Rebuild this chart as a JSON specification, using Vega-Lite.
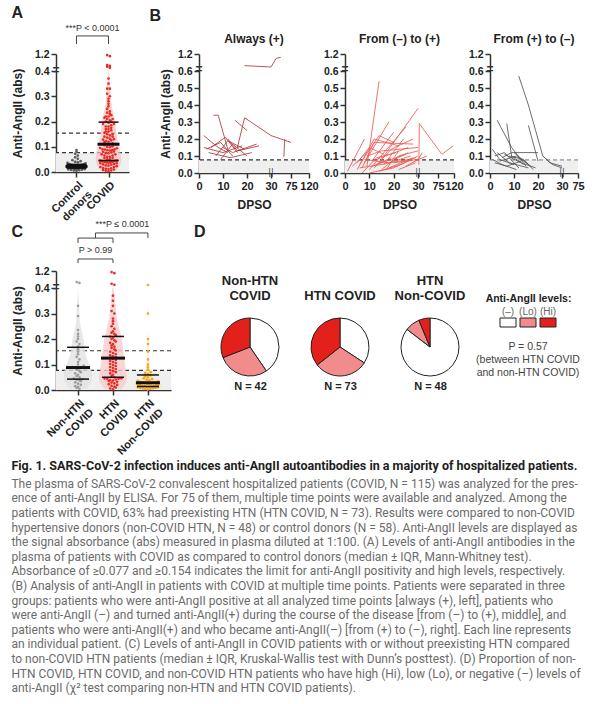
{
"$schema": "https://vega.github.io/schema/vega-lite/v6.json",
"padding": {"left": 11, "top": 4, "right": 4, "bottom": 4},
"config": {
  "view": {"stroke": null},
  "font": "Liberation Sans",
  "axis": {"labelFont": "Liberation Sans", "labelFontWeight": "bold", "labelFontSize": 10.5, "labelColor": "#222", "titleFont": "Liberation Sans", "titleFontWeight": "bold", "titleFontSize": 12, "titleColor": "#222", "domainColor": "#333", "domainWidth": 1.5, "tickColor": "#333", "tickWidth": 1.5, "tickSize": 5, "grid": false, "labelPadding": 2, "labelOverlap": false, "labelFlush": false},
  "title": {"font": "Liberation Sans", "fontWeight": "bold", "color": "#222"}
},
"datasets": {
  "dots": [
    {"g":"C","v":0.004},{"g":"C","v":0.006},{"g":"C","v":0.007},{"g":"C","v":0.008},{"g":"C","v":0.009},{"g":"C","v":0.010},{"g":"C","v":0.011},{"g":"C","v":0.012},{"g":"C","v":0.012},{"g":"C","v":0.013},{"g":"C","v":0.013},{"g":"C","v":0.014},{"g":"C","v":0.014},{"g":"C","v":0.015},{"g":"C","v":0.015},{"g":"C","v":0.016},{"g":"C","v":0.016},{"g":"C","v":0.017},{"g":"C","v":0.017},{"g":"C","v":0.018},{"g":"C","v":0.018},{"g":"C","v":0.019},{"g":"C","v":0.019},{"g":"C","v":0.020},{"g":"C","v":0.020},{"g":"C","v":0.020},{"g":"C","v":0.021},{"g":"C","v":0.021},{"g":"C","v":0.022},{"g":"C","v":0.022},{"g":"C","v":0.023},{"g":"C","v":0.023},{"g":"C","v":0.024},{"g":"C","v":0.024},{"g":"C","v":0.025},{"g":"C","v":0.025},{"g":"C","v":0.026},{"g":"C","v":0.026},{"g":"C","v":0.027},{"g":"C","v":0.027},{"g":"C","v":0.028},{"g":"C","v":0.028},{"g":"C","v":0.029},{"g":"C","v":0.030},{"g":"C","v":0.031},{"g":"C","v":0.032},{"g":"C","v":0.034},{"g":"C","v":0.036},{"g":"C","v":0.038},{"g":"C","v":0.040},{"g":"C","v":0.043},{"g":"C","v":0.047},{"g":"C","v":0.052},{"g":"C","v":0.058},{"g":"C","v":0.065},{"g":"C","v":0.072},{"g":"C","v":0.080},{"g":"C","v":0.087},
    {"g":"N","v":0.005},{"g":"N","v":0.008},{"g":"N","v":0.012},{"g":"N","v":0.015},{"g":"N","v":0.020},{"g":"N","v":0.025},{"g":"N","v":0.030},{"g":"N","v":0.035},{"g":"N","v":0.038},{"g":"N","v":0.040},{"g":"N","v":0.042},{"g":"N","v":0.045},{"g":"N","v":0.050},{"g":"N","v":0.055},{"g":"N","v":0.060},{"g":"N","v":0.065},{"g":"N","v":0.070},{"g":"N","v":0.075},{"g":"N","v":0.080},{"g":"N","v":0.085},{"g":"N","v":0.087},{"g":"N","v":0.089},{"g":"N","v":0.090},{"g":"N","v":0.095},{"g":"N","v":0.100},{"g":"N","v":0.110},{"g":"N","v":0.120},{"g":"N","v":0.130},{"g":"N","v":0.140},{"g":"N","v":0.150},{"g":"N","v":0.160},{"g":"N","v":0.170},{"g":"N","v":0.180},{"g":"N","v":0.190},{"g":"N","v":0.200},{"g":"N","v":0.210},{"g":"N","v":0.220},{"g":"N","v":0.235},{"g":"N","v":0.290},{"g":"N","v":0.330},{"g":"N","v":0.640},{"g":"N","v":0.680},
    {"g":"H","v":0.003},{"g":"H","v":0.006},{"g":"H","v":0.010},{"g":"H","v":0.013},{"g":"H","v":0.016},{"g":"H","v":0.020},{"g":"H","v":0.023},{"g":"H","v":0.026},{"g":"H","v":0.029},{"g":"H","v":0.032},{"g":"H","v":0.035},{"g":"H","v":0.037},{"g":"H","v":0.039},{"g":"H","v":0.041},{"g":"H","v":0.043},{"g":"H","v":0.044},{"g":"H","v":0.045},{"g":"H","v":0.046},
    {"g":"H","v":0.050},{"g":"H","v":0.055},{"g":"H","v":0.060},{"g":"H","v":0.065},{"g":"H","v":0.070},{"g":"H","v":0.074},{"g":"H","v":0.078},{"g":"H","v":0.082},{"g":"H","v":0.086},{"g":"H","v":0.090},{"g":"H","v":0.094},{"g":"H","v":0.098},{"g":"H","v":0.102},{"g":"H","v":0.106},{"g":"H","v":0.110},{"g":"H","v":0.114},{"g":"H","v":0.118},{"g":"H","v":0.122},{"g":"H","v":0.125},
    {"g":"H","v":0.128},{"g":"H","v":0.132},{"g":"H","v":0.136},{"g":"H","v":0.140},{"g":"H","v":0.145},{"g":"H","v":0.150},{"g":"H","v":0.155},{"g":"H","v":0.160},{"g":"H","v":0.165},{"g":"H","v":0.170},{"g":"H","v":0.175},{"g":"H","v":0.180},{"g":"H","v":0.185},{"g":"H","v":0.190},{"g":"H","v":0.195},{"g":"H","v":0.200},{"g":"H","v":0.205},{"g":"H","v":0.210},
    {"g":"H","v":0.215},{"g":"H","v":0.220},{"g":"H","v":0.225},{"g":"H","v":0.230},{"g":"H","v":0.240},{"g":"H","v":0.250},{"g":"H","v":0.260},{"g":"H","v":0.270},{"g":"H","v":0.280},{"g":"H","v":0.300},{"g":"H","v":0.310},{"g":"H","v":0.330},{"g":"H","v":0.350},{"g":"H","v":0.370},{"g":"H","v":0.550},{"g":"H","v":0.600},{"g":"H","v":1.100},{"g":"H","v":1.150},
    {"g":"O","v":0.002},{"g":"O","v":0.004},{"g":"O","v":0.005},{"g":"O","v":0.006},{"g":"O","v":0.007},{"g":"O","v":0.008},{"g":"O","v":0.009},{"g":"O","v":0.010},{"g":"O","v":0.011},{"g":"O","v":0.012},{"g":"O","v":0.012},{"g":"O","v":0.013},{"g":"O","v":0.014},{"g":"O","v":0.015},{"g":"O","v":0.016},{"g":"O","v":0.018},{"g":"O","v":0.019},{"g":"O","v":0.020},{"g":"O","v":0.022},{"g":"O","v":0.024},{"g":"O","v":0.025},{"g":"O","v":0.026},{"g":"O","v":0.027},{"g":"O","v":0.028},{"g":"O","v":0.029},{"g":"O","v":0.030},{"g":"O","v":0.032},{"g":"O","v":0.034},{"g":"O","v":0.036},{"g":"O","v":0.038},{"g":"O","v":0.040},{"g":"O","v":0.043},{"g":"O","v":0.046},{"g":"O","v":0.050},{"g":"O","v":0.054},{"g":"O","v":0.058},{"g":"O","v":0.062},{"g":"O","v":0.066},{"g":"O","v":0.070},{"g":"O","v":0.080},{"g":"O","v":0.090},{"g":"O","v":0.100},{"g":"O","v":0.120},{"g":"O","v":0.150},{"g":"O","v":0.180},{"g":"O","v":0.200},{"g":"O","v":0.300},{"g":"O","v":0.540}
  ],
  "lines": [
    {"s":"a","p":"a1","d":19,"v":0.79},{"s":"a","p":"a1","d":30,"v":0.74},{"s":"a","p":"a1","d":42,"v":1.05},{"s":"a","p":"a1","d":52,"v":1.08},
    {"s":"a","p":"a2","d":6,"v":0.34},{"s":"a","p":"a2","d":8,"v":0.34},{"s":"a","p":"a2","d":12,"v":0.14},
    {"s":"a","p":"a3","d":15,"v":0.31},{"s":"a","p":"a3","d":20,"v":0.25},
    {"s":"a","p":"a4","d":16,"v":0.15},{"s":"a","p":"a4","d":19,"v":0.325},{"s":"a","p":"a4","d":30,"v":0.22},{"s":"a","p":"a4","d":75,"v":0.18},
    {"s":"a","p":"a5","d":59,"v":0.095},{"s":"a","p":"a5","d":61,"v":0.2},
    {"s":"a","p":"a6","d":2,"v":0.22},{"s":"a","p":"a6","d":8,"v":0.15},{"s":"a","p":"a6","d":12,"v":0.12},
    {"s":"a","p":"a7","d":2,"v":0.15},{"s":"a","p":"a7","d":10,"v":0.12},{"s":"a","p":"a7","d":18,"v":0.16},
    {"s":"a","p":"a8","d":3,"v":0.14},{"s":"a","p":"a8","d":9,"v":0.18},{"s":"a","p":"a8","d":14,"v":0.10},
    {"s":"a","p":"a9","d":5,"v":0.15},{"s":"a","p":"a9","d":11,"v":0.21},{"s":"a","p":"a9","d":16,"v":0.12},
    {"s":"a","p":"a10","d":7,"v":0.10},{"s":"a","p":"a10","d":12,"v":0.19},{"s":"a","p":"a10","d":19,"v":0.14},
    {"s":"a","p":"a11","d":9,"v":0.08},{"s":"a","p":"a11","d":14,"v":0.17},{"s":"a","p":"a11","d":20,"v":0.10},
    {"s":"a","p":"a12","d":12,"v":0.20},{"s":"a","p":"a12","d":16,"v":0.13},{"s":"a","p":"a12","d":25,"v":0.16},
    {"s":"a","p":"a13","d":4,"v":0.12},{"s":"a","p":"a13","d":13,"v":0.09},{"s":"a","p":"a13","d":22,"v":0.12},
    {"s":"a","p":"a14","d":10,"v":0.15},{"s":"a","p":"a14","d":14,"v":0.12},{"s":"a","p":"a14","d":24,"v":0.17},
    {"s":"b","p":"b1","d":1,"v":0.01},{"s":"b","p":"b1","d":8,"v":0.20},
    {"s":"b","p":"b2","d":9,"v":0.04},{"s":"b","p":"b2","d":14,"v":0.54},
    {"s":"b","p":"b3","d":14,"v":0.06},{"s":"b","p":"b3","d":30,"v":0.38},
    {"s":"b","p":"b4","d":32,"v":0.05},{"s":"b","p":"b4","d":33,"v":0.29},{"s":"b","p":"b4","d":86,"v":0.11},{"s":"b","p":"b4","d":118,"v":0.16},
    {"s":"b","p":"b5","d":5,"v":0.02},{"s":"b","p":"b5","d":12,"v":0.20},{"s":"b","p":"b5","d":22,"v":0.16},
    {"s":"b","p":"b6","d":6,"v":0.05},{"s":"b","p":"b6","d":14,"v":0.22},{"s":"b","p":"b6","d":20,"v":0.18},
    {"s":"b","p":"b7","d":7,"v":0.03},{"s":"b","p":"b7","d":12,"v":0.18},{"s":"b","p":"b7","d":28,"v":0.17},
    {"s":"b","p":"b8","d":8,"v":0.06},{"s":"b","p":"b8","d":18,"v":0.30},
    {"s":"b","p":"b9","d":10,"v":0.02},{"s":"b","p":"b9","d":25,"v":0.27},
    {"s":"b","p":"b10","d":11,"v":0.07},{"s":"b","p":"b10","d":20,"v":0.24},
    {"s":"b","p":"b11","d":9,"v":0.10},{"s":"b","p":"b11","d":15,"v":0.13},{"s":"b","p":"b11","d":30,"v":0.15},
    {"s":"b","p":"b12","d":12,"v":0.03},{"s":"b","p":"b12","d":19,"v":0.14},{"s":"b","p":"b12","d":28,"v":0.20},
    {"s":"b","p":"b13","d":13,"v":0.08},{"s":"b","p":"b13","d":26,"v":0.15},
    {"s":"b","p":"b14","d":15,"v":0.02},{"s":"b","p":"b14","d":22,"v":0.10},{"s":"b","p":"b14","d":30,"v":0.13},
    {"s":"b","p":"b15","d":5,"v":0.06},{"s":"b","p":"b15","d":10,"v":0.15},{"s":"b","p":"b15","d":16,"v":0.11},
    {"s":"b","p":"b16","d":7,"v":0.00},{"s":"b","p":"b16","d":13,"v":0.09},{"s":"b","p":"b16","d":21,"v":0.12},
    {"s":"b","p":"b17","d":3,"v":0.04},{"s":"b","p":"b17","d":9,"v":0.12},
    {"s":"b","p":"b18","d":16,"v":0.05},{"s":"b","p":"b18","d":24,"v":0.20},
    {"s":"b","p":"b19","d":18,"v":0.03},{"s":"b","p":"b19","d":28,"v":0.09},
    {"s":"b","p":"b20","d":20,"v":0.06},{"s":"b","p":"b20","d":30,"v":0.08},{"s":"b","p":"b20","d":40,"v":0.12},
    {"s":"b","p":"b21","d":11,"v":0.04},{"s":"b","p":"b21","d":17,"v":0.07},{"s":"b","p":"b21","d":25,"v":0.11},
    {"s":"b","p":"b22","d":14,"v":0.01},{"s":"b","p":"b22","d":23,"v":0.05},{"s":"b","p":"b22","d":29,"v":0.09},
    {"s":"b","p":"b23","d":8,"v":0.08},{"s":"b","p":"b23","d":18,"v":0.06},{"s":"b","p":"b23","d":27,"v":0.10},
    {"s":"b","p":"b24","d":6,"v":0.03},{"s":"b","p":"b24","d":15,"v":0.05},{"s":"b","p":"b24","d":26,"v":0.08},
    {"s":"b","p":"b25","d":10,"v":0.00},{"s":"b","p":"b25","d":20,"v":0.03},{"s":"b","p":"b25","d":30,"v":0.10},
    {"s":"b","p":"b26","d":13,"v":0.05},{"s":"b","p":"b26","d":19,"v":0.09},
    {"s":"b","p":"b27","d":17,"v":0.02},{"s":"b","p":"b27","d":22,"v":0.13},
    {"s":"b","p":"b28","d":22,"v":0.02},{"s":"b","p":"b28","d":29,"v":0.06},
    {"s":"b","p":"b29","d":25,"v":0.04},{"s":"b","p":"b29","d":31,"v":0.08},{"s":"b","p":"b29","d":50,"v":0.10},
    {"s":"b","p":"b30","d":19,"v":0.07},{"s":"b","p":"b30","d":26,"v":0.12},
    {"s":"c","p":"c1","d":12,"v":0.57},{"s":"c","p":"c1","d":16,"v":0.40},{"s":"c","p":"c1","d":19,"v":0.25},{"s":"c","p":"c1","d":22,"v":0.10},{"s":"c","p":"c1","d":26,"v":0.05},{"s":"c","p":"c1","d":30,"v":0.03},
    {"s":"c","p":"c2","d":16,"v":0.28},{"s":"c","p":"c2","d":20,"v":0.07},
    {"s":"c","p":"c3","d":3,"v":0.31},{"s":"c","p":"c3","d":9,"v":0.15},{"s":"c","p":"c3","d":15,"v":0.04},
    {"s":"c","p":"c4","d":7,"v":0.29},{"s":"c","p":"c4","d":9,"v":0.10},{"s":"c","p":"c4","d":14,"v":0.05},
    {"s":"c","p":"c5","d":1,"v":0.14},{"s":"c","p":"c5","d":4,"v":0.08},{"s":"c","p":"c5","d":10,"v":0.05},
    {"s":"c","p":"c6","d":2,"v":0.10},{"s":"c","p":"c6","d":6,"v":0.12},{"s":"c","p":"c6","d":12,"v":0.03},
    {"s":"c","p":"c7","d":3,"v":0.12},{"s":"c","p":"c7","d":8,"v":0.06},{"s":"c","p":"c7","d":16,"v":0.03},
    {"s":"c","p":"c8","d":5,"v":0.09},{"s":"c","p":"c8","d":9,"v":0.12},{"s":"c","p":"c8","d":20,"v":0.12},
    {"s":"c","p":"c9","d":4,"v":0.07},{"s":"c","p":"c9","d":11,"v":0.10},{"s":"c","p":"c9","d":17,"v":0.04},
    {"s":"c","p":"c10","d":6,"v":0.11},{"s":"c","p":"c10","d":13,"v":0.06},{"s":"c","p":"c10","d":19,"v":0.03},
    {"s":"c","p":"c11","d":8,"v":0.10},{"s":"c","p":"c11","d":14,"v":0.08},{"s":"c","p":"c11","d":18,"v":0.02},
    {"s":"c","p":"c12","d":2,"v":0.06},{"s":"c","p":"c12","d":7,"v":0.04},{"s":"c","p":"c12","d":13,"v":0.07},
    {"s":"c","p":"c13","d":10,"v":0.12},{"s":"c","p":"c13","d":16,"v":0.05},
    {"s":"c","p":"c14","d":22,"v":0.10},{"s":"c","p":"c14","d":25,"v":0.06},{"s":"c","p":"c14","d":30,"v":0.04},
    {"s":"c","p":"c15","d":1,"v":0.08},{"s":"c","p":"c15","d":5,"v":0.05},{"s":"c","p":"c15","d":11,"v":0.02}
  ],
  "pies": [
    {"grp":"N","lvl":"(–)","n":17},{"grp":"N","lvl":"(Lo)","n":12},{"grp":"N","lvl":"(Hi)","n":13},
    {"grp":"H","lvl":"(–)","n":25},{"grp":"H","lvl":"(Lo)","n":22},{"grp":"H","lvl":"(Hi)","n":26},
    {"grp":"O","lvl":"(–)","n":41},{"grp":"O","lvl":"(Lo)","n":4},{"grp":"O","lvl":"(Hi)","n":3}
  ]
},
"title": {
  "text": "Fig. 1. SARS-CoV-2 infection induces anti-AngII autoantibodies in a majority of hospitalized patients.",
  "subtitle": [
    "The plasma of SARS-CoV-2 convalescent hospitalized patients (COVID, N = 115) was analyzed for the pres-",
    "ence of anti-AngII by ELISA. For 75 of them, multiple time points were available and analyzed. Among the",
    "patients with COVID, 63% had preexisting HTN (HTN COVID, N = 73). Results were compared to non-COVID",
    "hypertensive donors (non-COVID HTN, N = 48) or control donors (N = 58). Anti-AngII levels are displayed as",
    "the signal absorbance (abs) measured in plasma diluted at 1:100. (A) Levels of anti-AngII antibodies in the",
    "plasma of patients with COVID as compared to control donors (median ± IQR, Mann-Whitney test).",
    "Absorbance of ≥0.077 and ≥0.154 indicates the limit for anti-AngII positivity and high levels, respectively.",
    "(B) Analysis of anti-AngII in patients with COVID at multiple time points. Patients were separated in three",
    "groups: patients who were anti-AngII positive at all analyzed time points [always (+), left], patients who",
    "were anti-AngII (–) and turned anti-AngII(+) during the course of the disease [from (–) to (+), middle], and",
    "patients who were anti-AngII(+) and who became anti-AngII(–) [from (+) to (–), right]. Each line represents",
    "an individual patient. (C) Levels of anti-AngII in COVID patients with or without preexisting HTN compared",
    "to non-COVID HTN patients (median ± IQR, Kruskal-Wallis test with Dunn’s posttest). (D) Proportion of non-",
    "HTN COVID, HTN COVID, and non-COVID HTN patients who have high (Hi), low (Lo), or negative (–) levels of",
    "anti-AngII (χ² test comparing non-HTN and HTN COVID patients)."
  ],
  "orient": "bottom", "anchor": "start", "frame": "bounds", "offset": 4,
  "font": "Roboto", "fontSize": 12.5, "fontWeight": "bold", "color": "#1e1e1e",
  "subtitleFont": "Roboto", "subtitleFontSize": 12, "subtitleColor": "#6b6b6b", "subtitleLineHeight": 14.6, "subtitlePadding": 6
},
"spacing": -5,
"vconcat": [
  {
    "spacing": 19,
    "hconcat": [
      {
        "title": {"text": "A", "anchor": "start", "frame": "bounds", "fontSize": 16, "offset": 3},
        "width": 73, "height": 118,
        "data": {"name": "dots"},
        "transform": [{"filter": "datum.g != 'O'"}, {"calculate": "datum.g == 'C' ? 1 : 2", "as": "cat"}],
        "layer": [
          {"data": {"values": [{"lo": 0, "hi": 0.077}]}, "mark": {"type": "rect", "color": "#efefef"},
           "encoding": {"y": {"field": "lo", "type": "quantitative"}, "y2": {"field": "hi"}}},
          {"data": {"values": [{"t": 0.077}, {"t": 0.154}]}, "mark": {"type": "rule", "strokeDash": [4, 3], "color": "#333", "strokeWidth": 1.2},
           "encoding": {"y": {"field": "t", "type": "quantitative"}}},
          {"transform": [{"filter": "datum.cat == 1"}, {"density": "v", "bandwidth": 0.006, "groupby": ["cat"], "as": ["v", "dens"]}, {"joinaggregate": [{"op": "max", "field": "dens", "as": "mx"}]}, {"calculate": "datum.cat - 0.33*datum.dens/datum.mx", "as": "xa"}, {"calculate": "datum.cat + 0.33*datum.dens/datum.mx", "as": "xb"}],
           "mark": {"type": "area", "orient": "horizontal", "color": "#d4d4d4", "opacity": 0.7},
           "encoding": {"y": {"field": "v", "type": "quantitative"}, "x": {"field": "xa", "type": "quantitative"}, "x2": {"field": "xb"}}},
          {"transform": [{"filter": "datum.cat == 2"}, {"density": "v", "bandwidth": 0.03, "groupby": ["cat"], "as": ["v", "dens"]}, {"joinaggregate": [{"op": "max", "field": "dens", "as": "mx"}]}, {"calculate": "datum.cat - 0.4*datum.dens/datum.mx", "as": "xa"}, {"calculate": "datum.cat + 0.4*datum.dens/datum.mx", "as": "xb"}],
           "mark": {"type": "area", "orient": "horizontal", "color": "#f8c3c3", "opacity": 0.7},
           "encoding": {"y": {"field": "v", "type": "quantitative"}, "x": {"field": "xa", "type": "quantitative"}, "x2": {"field": "xb"}}},
          {"transform": [
              {"calculate": "floor((datum.v < 0.4 ? datum.v : 0.4 + (datum.v - 0.4)*0.085)/0.012)", "as": "bin"},
              {"window": [{"op": "row_number", "as": "r"}], "groupby": ["cat", "bin"], "sort": [{"field": "v"}]},
              {"joinaggregate": [{"op": "count", "as": "n"}], "groupby": ["cat", "bin"]},
              {"calculate": "datum.cat + min(0.085, 0.6/datum.n)*((datum.r % 2 == 0 ? -1 : 1)*floor(datum.r/2) + (datum.n % 2 == 0 ? 0.5 : 0))", "as": "px"}],
           "mark": {"type": "circle", "size": 7, "opacity": 0.95},
           "encoding": {
             "x": {"field": "px", "type": "quantitative", "scale": {"domain": [0.36, 2.64], "nice": false, "zero": false},
                   "axis": {"values": [1, 2], "tickCount": 20, "title": null, "labelAngle": -45, "labelFontSize": 11, "labelExpr": "datum.value == 1 ? ['Control', 'donors'] : 'COVID'"}},
             "y": {"field": "v", "type": "quantitative", "scale": {"domain": [0, 0.4, 1.2], "range": [118, 17, 0], "nice": false, "zero": false},
                   "axis": {"values": [0, 0.1, 0.2, 0.3, 0.4, 1.2], "tickCount": 20, "format": ".1f", "title": "Anti-AngII (abs)", "titlePadding": 10}},
             "color": {"condition": {"test": "datum.g == 'C'", "value": "#555555"}, "value": "#e8231c"}}},
          {"mark": {"type": "tick", "orient": "horizontal", "thickness": 3, "size": 22, "color": "#111"},
           "encoding": {"x": {"field": "cat", "type": "quantitative"}, "y": {"aggregate": "median", "field": "v", "type": "quantitative"}}},
          {"mark": {"type": "tick", "orient": "horizontal", "thickness": 1.5, "size": 20, "color": "#111"},
           "encoding": {"x": {"field": "cat", "type": "quantitative"}, "y": {"aggregate": "q1", "field": "v", "type": "quantitative"}}},
          {"mark": {"type": "tick", "orient": "horizontal", "thickness": 1.5, "size": 20, "color": "#111"},
           "encoding": {"x": {"field": "cat", "type": "quantitative"}, "y": {"aggregate": "q3", "field": "v", "type": "quantitative"}}},
          {"data": {"values": [{"xa": 1, "xb": 2, "ya": 2.05, "yb": 2.05}, {"xa": 1, "xb": 1, "ya": 1.67, "yb": 2.05}, {"xa": 2, "xb": 2, "ya": 1.67, "yb": 2.05}]},
           "mark": {"type": "rule", "color": "#444", "strokeWidth": 1},
           "encoding": {"x": {"field": "xa", "type": "quantitative"}, "x2": {"field": "xb"}, "y": {"field": "ya", "type": "quantitative"}, "y2": {"field": "yb"}}},
          {"data": {"values": [{"xa": 1.5, "ya": 2.19, "t": "***P < 0.0001"}]},
           "mark": {"type": "text", "baseline": "bottom", "fontSize": 9, "fill": "#333"},
           "encoding": {"x": {"field": "xa", "type": "quantitative"}, "y": {"field": "ya", "type": "quantitative"}, "text": {"field": "t"}}},
          {"data": {"values": [{"xa": 0.36, "ya": 0.45}]},
           "mark": {"type": "text", "text": "=", "fontSize": 12, "fontWeight": "bold", "baseline": "middle", "fill": "#333"},
           "encoding": {"x": {"field": "xa", "type": "quantitative"}, "y": {"field": "ya", "type": "quantitative"}}}
        ]
      },
      {
        "title": {"text": "B", "anchor": "start", "frame": "bounds", "fontSize": 16, "offset": 9, "dx": -10},
        "bounds": "flush",
        "spacing": 36,
        "hconcat": [
          {
            "title": {"text": "Always (+)", "anchor": "middle", "frame": "group", "fontSize": 12, "offset": 3},
            "width": 110, "height": 119,
            "layer": [
              {"data": {"values": [{"lo": 0, "hi": 0.077}]}, "mark": {"type": "rect", "color": "#efefef"},
               "encoding": {"y": {"field": "lo", "type": "quantitative"}, "y2": {"field": "hi"}}},
              {"data": {"values": [{"t": 0.077}]}, "mark": {"type": "rule", "strokeDash": [4, 3], "color": "#333", "strokeWidth": 1.2},
               "encoding": {"y": {"field": "t", "type": "quantitative"}}},
              {"data": {"name": "lines"}, "transform": [{"filter": "datum.s == 'a'"}],
               "mark": {"type": "line", "color": "#b0383c", "strokeWidth": 1, "opacity": 0.85},
               "encoding": {
                 "x": {"field": "d", "type": "quantitative", "scale": {"domain": [0, 30, 75, 120], "range": [0, 72, 92, 110], "nice": false, "zero": false},
                       "axis": {"values": [0, 10, 20, 30, 75, 120], "tickCount": 20, "title": "DPSO", "titlePadding": 8, "labelFontSize": 11}},
                 "y": {"field": "v", "type": "quantitative", "scale": {"domain": [0, 0.6, 1.2], "range": [119, 17, 0], "nice": false, "zero": false},
                       "axis": {"values": [0, 0.1, 0.2, 0.3, 0.4, 0.5, 0.6, 1.2], "tickCount": 20, "format": ".1f", "title": "Anti-AngII (abs)", "titlePadding": 5}},
                 "detail": {"field": "p"}}},
              {"data": {"values": [{"xa": 0, "ya": 0.66}]},
               "mark": {"type": "text", "text": "=", "fontSize": 12, "fontWeight": "bold", "baseline": "middle", "fill": "#333"},
               "encoding": {"x": {"field": "xa", "type": "quantitative"}, "y": {"field": "ya", "type": "quantitative"}}},
              {"data": {"values": [{"xa": 30, "ya": 0}]},
               "mark": {"type": "text", "text": "||", "font": "DejaVu Sans", "fontSize": 8, "baseline": "middle", "fill": "#333"},
               "encoding": {"x": {"field": "xa", "type": "quantitative"}, "y": {"field": "ya", "type": "quantitative"}}}
            ]
          },
          {
            "title": {"text": "From (–) to (+)", "anchor": "middle", "frame": "group", "fontSize": 12, "offset": 3},
            "width": 109, "height": 119,
            "layer": [
              {"data": {"values": [{"lo": 0, "hi": 0.077}]}, "mark": {"type": "rect", "color": "#efefef"},
               "encoding": {"y": {"field": "lo", "type": "quantitative"}, "y2": {"field": "hi"}}},
              {"data": {"values": [{"t": 0.077}]}, "mark": {"type": "rule", "strokeDash": [4, 3], "color": "#333", "strokeWidth": 1.2},
               "encoding": {"y": {"field": "t", "type": "quantitative"}}},
              {"data": {"name": "lines"}, "transform": [{"filter": "datum.s == 'b'"}],
               "mark": {"type": "line", "color": "#ec5a52", "strokeWidth": 1, "opacity": 0.85},
               "encoding": {
                 "x": {"field": "d", "type": "quantitative", "scale": {"domain": [0, 30, 75, 120], "range": [0, 73, 93, 109], "nice": false, "zero": false},
                       "axis": {"values": [0, 10, 20, 30, 75, 120], "tickCount": 20, "title": "DPSO", "titlePadding": 8, "labelFontSize": 11}},
                 "y": {"field": "v", "type": "quantitative", "scale": {"domain": [0, 0.6, 1.2], "range": [119, 17, 0], "nice": false, "zero": false},
                       "axis": {"values": [0, 0.1, 0.2, 0.3, 0.4, 0.5, 0.6, 1.2], "tickCount": 20, "format": ".1f", "title": null}},
                 "detail": {"field": "p"}}},
              {"data": {"values": [{"xa": 0, "ya": 0.66}]},
               "mark": {"type": "text", "text": "=", "fontSize": 12, "fontWeight": "bold", "baseline": "middle", "fill": "#333"},
               "encoding": {"x": {"field": "xa", "type": "quantitative"}, "y": {"field": "ya", "type": "quantitative"}}},
              {"data": {"values": [{"xa": 30, "ya": 0}]},
               "mark": {"type": "text", "text": "||", "font": "DejaVu Sans", "fontSize": 8, "baseline": "middle", "fill": "#333"},
               "encoding": {"x": {"field": "xa", "type": "quantitative"}, "y": {"field": "ya", "type": "quantitative"}}}
            ]
          },
          {
            "title": {"text": "From (+) to (–)", "anchor": "middle", "frame": "group", "fontSize": 12, "offset": 3},
            "width": 88, "height": 119,
            "layer": [
              {"data": {"values": [{"lo": 0, "hi": 0.077}]}, "mark": {"type": "rect", "color": "#efefef"},
               "encoding": {"y": {"field": "lo", "type": "quantitative"}, "y2": {"field": "hi"}}},
              {"data": {"values": [{"t": 0.077}]}, "mark": {"type": "rule", "strokeDash": [4, 3], "color": "#777", "strokeWidth": 1},
               "encoding": {"y": {"field": "t", "type": "quantitative"}}},
              {"data": {"name": "lines"}, "transform": [{"filter": "datum.s == 'c'"}],
               "mark": {"type": "line", "color": "#555555", "strokeWidth": 1, "opacity": 0.85},
               "encoding": {
                 "x": {"field": "d", "type": "quantitative", "scale": {"domain": [0, 30, 75], "range": [0, 72, 88], "nice": false, "zero": false},
                       "axis": {"values": [0, 10, 20, 30, 75], "tickCount": 20, "title": "DPSO", "titlePadding": 8, "labelFontSize": 11}},
                 "y": {"field": "v", "type": "quantitative", "scale": {"domain": [0, 0.6, 1.2], "range": [119, 17, 0], "nice": false, "zero": false},
                       "axis": {"values": [0, 0.1, 0.2, 0.3, 0.4, 0.5, 0.6, 1.2], "tickCount": 20, "format": ".1f", "title": null}},
                 "detail": {"field": "p"}}},
              {"data": {"values": [{"xa": 0, "ya": 0.66}]},
               "mark": {"type": "text", "text": "=", "fontSize": 12, "fontWeight": "bold", "baseline": "middle", "fill": "#333"},
               "encoding": {"x": {"field": "xa", "type": "quantitative"}, "y": {"field": "ya", "type": "quantitative"}}},
              {"data": {"values": [{"xa": 30, "ya": 0}]},
               "mark": {"type": "text", "text": "||", "font": "DejaVu Sans", "fontSize": 8, "baseline": "middle", "fill": "#333"},
               "encoding": {"x": {"field": "xa", "type": "quantitative"}, "y": {"field": "ya", "type": "quantitative"}}}
            ]
          }
        ]
      }
    ]
  },
  {
    "spacing": 22,
    "hconcat": [
      {
        "title": {"text": "C", "anchor": "start", "frame": "bounds", "fontSize": 16, "offset": -20},
        "width": 115, "height": 119,
        "data": {"name": "dots"},
        "transform": [{"filter": "datum.g != 'C'"}, {"calculate": "datum.g == 'N' ? 1 : datum.g == 'H' ? 2 : 3", "as": "cat"}],
        "layer": [
          {"data": {"values": [{"lo": 0, "hi": 0.077}]}, "mark": {"type": "rect", "color": "#efefef"},
           "encoding": {"y": {"field": "lo", "type": "quantitative"}, "y2": {"field": "hi"}}},
          {"data": {"values": [{"t": 0.077}, {"t": 0.154}]}, "mark": {"type": "rule", "strokeDash": [4, 3], "color": "#333", "strokeWidth": 1.2},
           "encoding": {"y": {"field": "t", "type": "quantitative"}}},
          {"transform": [{"filter": "datum.cat == 1"}, {"density": "v", "bandwidth": 0.035, "groupby": ["cat"], "as": ["v", "dens"]}, {"joinaggregate": [{"op": "max", "field": "dens", "as": "mx"}]}, {"calculate": "datum.cat - 0.4*datum.dens/datum.mx", "as": "xa"}, {"calculate": "datum.cat + 0.4*datum.dens/datum.mx", "as": "xb"}],
           "mark": {"type": "area", "orient": "horizontal", "color": "#e2e2e2", "opacity": 0.8},
           "encoding": {"y": {"field": "v", "type": "quantitative"}, "x": {"field": "xa", "type": "quantitative"}, "x2": {"field": "xb"}}},
          {"transform": [{"filter": "datum.cat == 2"}, {"density": "v", "bandwidth": 0.03, "groupby": ["cat"], "as": ["v", "dens"]}, {"joinaggregate": [{"op": "max", "field": "dens", "as": "mx"}]}, {"calculate": "datum.cat - 0.4*datum.dens/datum.mx", "as": "xa"}, {"calculate": "datum.cat + 0.4*datum.dens/datum.mx", "as": "xb"}],
           "mark": {"type": "area", "orient": "horizontal", "color": "#f9cccc", "opacity": 0.8},
           "encoding": {"y": {"field": "v", "type": "quantitative"}, "x": {"field": "xa", "type": "quantitative"}, "x2": {"field": "xb"}}},
          {"transform": [{"filter": "datum.cat == 3"}, {"density": "v", "bandwidth": 0.01, "groupby": ["cat"], "as": ["v", "dens"]}, {"joinaggregate": [{"op": "max", "field": "dens", "as": "mx"}]}, {"calculate": "datum.cat - 0.4*datum.dens/datum.mx", "as": "xa"}, {"calculate": "datum.cat + 0.4*datum.dens/datum.mx", "as": "xb"}],
           "mark": {"type": "area", "orient": "horizontal", "color": "#fde3b8", "opacity": 0.8},
           "encoding": {"y": {"field": "v", "type": "quantitative"}, "x": {"field": "xa", "type": "quantitative"}, "x2": {"field": "xb"}}},
          {"transform": [
              {"calculate": "floor((datum.v < 0.4 ? datum.v : 0.4 + (datum.v - 0.4)*0.085)/0.012)", "as": "bin"},
              {"window": [{"op": "row_number", "as": "r"}], "groupby": ["cat", "bin"], "sort": [{"field": "v"}]},
              {"joinaggregate": [{"op": "count", "as": "n"}], "groupby": ["cat", "bin"]},
              {"calculate": "datum.cat + min(0.08, 0.65/datum.n)*((datum.r % 2 == 0 ? -1 : 1)*floor(datum.r/2) + (datum.n % 2 == 0 ? 0.5 : 0))", "as": "px"}],
           "mark": {"type": "circle", "size": 7, "opacity": 0.95},
           "encoding": {
             "x": {"field": "px", "type": "quantitative", "scale": {"domain": [0.37, 3.66], "nice": false, "zero": false},
                   "axis": {"values": [1, 2, 3], "tickCount": 20, "title": null, "labelAngle": -45, "labelFontSize": 11, "labelExpr": "datum.value == 1 ? ['Non-HTN', 'COVID'] : datum.value == 2 ? ['HTN', 'COVID'] : ['HTN', 'Non-COVID']"}},
             "y": {"field": "v", "type": "quantitative", "scale": {"domain": [0, 0.4, 1.2], "range": [119, 17, 0], "nice": false, "zero": false},
                   "axis": {"values": [0, 0.1, 0.2, 0.3, 0.4, 1.2], "tickCount": 20, "format": ".1f", "title": "Anti-AngII (abs)", "titlePadding": 10}},
             "color": {"condition": [{"test": "datum.g == 'N'", "value": "#9a9a9a"}, {"test": "datum.g == 'H'", "value": "#e8231c"}], "value": "#f5a015"}}},
          {"mark": {"type": "tick", "orient": "horizontal", "thickness": 3, "size": 24, "color": "#111"},
           "encoding": {"x": {"field": "cat", "type": "quantitative"}, "y": {"aggregate": "median", "field": "v", "type": "quantitative"}}},
          {"mark": {"type": "tick", "orient": "horizontal", "thickness": 1.5, "size": 22, "color": "#111"},
           "encoding": {"x": {"field": "cat", "type": "quantitative"}, "y": {"aggregate": "q1", "field": "v", "type": "quantitative"}}},
          {"mark": {"type": "tick", "orient": "horizontal", "thickness": 1.5, "size": 22, "color": "#111"},
           "encoding": {"x": {"field": "cat", "type": "quantitative"}, "y": {"aggregate": "q3", "field": "v", "type": "quantitative"}}},
          {"data": {"values": [
              {"xa": 1, "xb": 2, "ya": 1.765, "yb": 1.765}, {"xa": 1, "xb": 1, "ya": 1.576, "yb": 1.765}, {"xa": 2, "xb": 2, "ya": 1.576, "yb": 1.765},
              {"xa": 1, "xb": 2, "ya": 2.75, "yb": 2.75}, {"xa": 1, "xb": 1, "ya": 2.52, "yb": 2.75}, {"xa": 2, "xb": 2, "ya": 2.52, "yb": 2.75},
              {"xa": 1.5, "xb": 1.5, "ya": 2.75, "yb": 2.99}, {"xa": 1.5, "xb": 3, "ya": 2.99, "yb": 2.99}, {"xa": 3, "xb": 3, "ya": 2.75, "yb": 2.99}]},
           "mark": {"type": "rule", "color": "#444", "strokeWidth": 1},
           "encoding": {"x": {"field": "xa", "type": "quantitative"}, "x2": {"field": "xb"}, "y": {"field": "ya", "type": "quantitative"}, "y2": {"field": "yb"}}},
          {"data": {"values": [{"xa": 1.5, "ya": 1.95, "t": "P > 0.99"}, {"xa": 2.27, "ya": 3.18, "t": "***P ≤ 0.0001"}]},
           "mark": {"type": "text", "baseline": "bottom", "fontSize": 9, "fill": "#333"},
           "encoding": {"x": {"field": "xa", "type": "quantitative"}, "y": {"field": "ya", "type": "quantitative"}, "text": {"field": "t"}}},
          {"data": {"values": [{"xa": 0.37, "ya": 0.45}]},
           "mark": {"type": "text", "text": "=", "fontSize": 12, "fontWeight": "bold", "baseline": "middle", "fill": "#333"},
           "encoding": {"x": {"field": "xa", "type": "quantitative"}, "y": {"field": "ya", "type": "quantitative"}}}
        ]
      },
      {
        "title": {"text": "D", "anchor": "start", "frame": "bounds", "fontSize": 16, "offset": 31, "dx": -12},
        "bounds": "flush",
        "spacing": 39,
        "vconcat": [
          {
            "width": 268, "height": 8,
            "data": {"values": [{"grp": "N", "t": "Non-HTN\nCOVID"}, {"grp": "H", "t": "\nHTN COVID"}, {"grp": "O", "t": "HTN\nNon-COVID"}]},
            "mark": {"type": "text", "fontSize": 13, "fontWeight": "bold", "lineBreak": "\n", "lineHeight": 15, "baseline": "top", "fill": "#222"},
            "encoding": {"x": {"field": "grp", "type": "nominal", "sort": ["N", "H", "O"], "scale": {"type": "point", "padding": 0.489}, "axis": null}, "text": {"field": "t"}}
          },
          {
            "spacing": 2,
            "hconcat": [
              {
                "width": 88, "height": 58,
                "data": {"name": "pies"},
                "transform": [{"filter": "datum.grp == 'N'"}],
                "layer": [
                  {"mark": {"type": "arc", "stroke": "#222", "strokeWidth": 1},
                   "encoding": {"theta": {"field": "n", "type": "quantitative", "stack": true},
                                "color": {"field": "lvl", "type": "nominal", "scale": {"domain": ["(–)", "(Lo)", "(Hi)"], "range": ["#ffffff", "#f08c8c", "#e3201b"]}, "legend": null},
                                "order": {"field": "lvl", "sort": "descending"}}},
                  {"mark": {"type": "point", "opacity": 0},
                   "encoding": {"x": {"field": "grp", "type": "nominal", "axis": {"title": "N = 42", "labels": false, "ticks": false, "domain": false, "titlePadding": 4, "titleFontSize": 11}}}}
                ]
              },
              {
                "width": 88, "height": 58,
                "data": {"name": "pies"},
                "transform": [{"filter": "datum.grp == 'H'"}],
                "layer": [
                  {"mark": {"type": "arc", "stroke": "#222", "strokeWidth": 1},
                   "encoding": {"theta": {"field": "n", "type": "quantitative", "stack": true},
                                "color": {"field": "lvl", "type": "nominal", "scale": {"domain": ["(–)", "(Lo)", "(Hi)"], "range": ["#ffffff", "#f08c8c", "#e3201b"]}, "legend": null},
                                "order": {"field": "lvl", "sort": "descending"}}},
                  {"mark": {"type": "point", "opacity": 0},
                   "encoding": {"x": {"field": "grp", "type": "nominal", "axis": {"title": "N = 73", "labels": false, "ticks": false, "domain": false, "titlePadding": 4, "titleFontSize": 11}}}}
                ]
              },
              {
                "width": 88, "height": 58,
                "data": {"name": "pies"},
                "transform": [{"filter": "datum.grp == 'O'"}],
                "layer": [
                  {"mark": {"type": "arc", "stroke": "#222", "strokeWidth": 1},
                   "encoding": {"theta": {"field": "n", "type": "quantitative", "stack": true},
                                "color": {"field": "lvl", "type": "nominal", "scale": {"domain": ["(–)", "(Lo)", "(Hi)"], "range": ["#ffffff", "#f08c8c", "#e3201b"]}, "legend": null},
                                "order": {"field": "lvl", "sort": "descending"}}},
                  {"mark": {"type": "point", "opacity": 0},
                   "encoding": {"x": {"field": "grp", "type": "nominal", "axis": {"title": "N = 48", "labels": false, "ticks": false, "domain": false, "titlePadding": 4, "titleFontSize": 11}}}}
                ]
              },
              {
                "title": {"text": ["P = 0.57", "(between HTN COVID", "and non-HTN COVID)"], "orient": "bottom", "anchor": "middle", "frame": "group", "fontSize": 10.5, "fontWeight": "normal", "color": "#444", "lineHeight": 13, "offset": 14},
                "width": 86, "height": 9,
                "data": {"values": [{"lvl": "(–)"}, {"lvl": "(Lo)"}, {"lvl": "(Hi)"}]},
                "mark": {"type": "rect", "stroke": "#222", "strokeWidth": 1},
                "encoding": {
                  "x": {"field": "lvl", "type": "nominal", "sort": ["(–)", "(Lo)", "(Hi)"], "scale": {"paddingInner": 0.2, "paddingOuter": 0.75},
                        "axis": {"orient": "top", "title": "Anti-AngII levels:", "labelAngle": 0, "ticks": false, "domain": false, "labelFontWeight": "normal", "labelColor": "#666", "labelFontSize": 10, "titleFontSize": 10.5, "titlePadding": 3, "labelPadding": 2}},
                  "color": {"field": "lvl", "type": "nominal", "scale": {"domain": ["(–)", "(Lo)", "(Hi)"], "range": ["#ffffff", "#f08c8c", "#e3201b"]}, "legend": null}}
              }
            ]
          }
        ]
      }
    ]
  }
]
}
